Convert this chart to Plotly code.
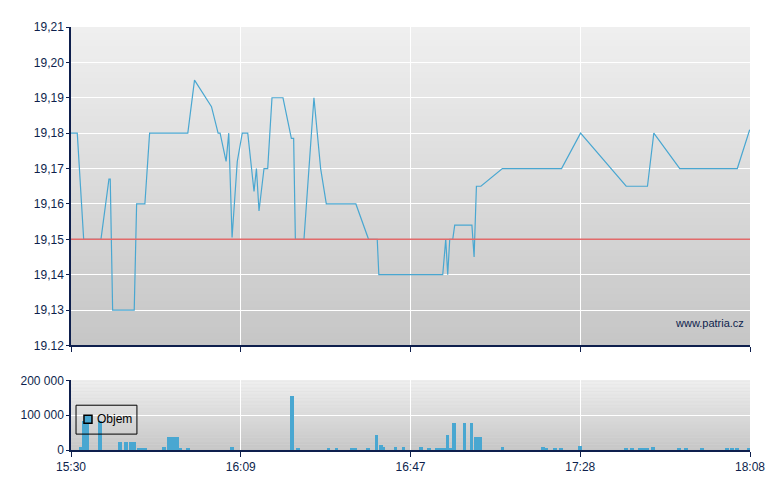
import plotly.graph_objects as go

# ---- data ----
# time in minutes after 15:30
price_time = [0, 1.46, 2.95, 6.97, 8.83, 9.13, 9.69, 14.71, 15.27, 17.19, 18.29, 27.18,
              28.74, 32.69, 34.23, 34.69, 36.09, 36.71, 37.48, 38.69, 39.85, 41.13,
              42.59, 43.15, 43.75, 44.91, 45.77, 46.77, 49.33, 51.28, 51.81, 52.21,
              54.21, 56.53, 58.09, 59.41, 66.29, 69.24, 71.26, 71.63, 86.50, 87.20,
              87.66, 88.13, 88.83, 89.29, 93.29, 93.80, 94.34, 95.38, 100.38, 114.15,
              118.57, 129.19, 134.14, 135.62, 141.66, 155.05, 157.93]
price = [19.18, 19.18, 19.15, 19.15, 19.167, 19.167, 19.13, 19.13, 19.16, 19.16, 19.18, 19.18,
         19.195, 19.1875, 19.18, 19.18, 19.172, 19.18, 19.1505, 19.172, 19.18, 19.18,
         19.1635, 19.17, 19.158, 19.17, 19.17, 19.19, 19.19, 19.1785, 19.1785, 19.15,
         19.15, 19.19, 19.17, 19.16, 19.16, 19.15, 19.15, 19.14, 19.14, 19.15,
         19.14, 19.15, 19.15, 19.154, 19.154, 19.145, 19.165, 19.165, 19.17, 19.17,
         19.18, 19.165, 19.165, 19.18, 19.17, 19.17, 19.181]
reference_price = 19.15

vol_time = [2.2, 3.0, 3.85, 6.8, 11.35, 12.8, 13.9, 14.7, 15.7, 16.5, 17.3, 21.6,
            22.75, 23.7, 24.65, 25.5, 27.2, 37.4, 51.5, 52.8, 59.9, 61.8, 65.3, 66.2,
            69.2, 71.1, 72.1, 72.7, 75.5, 77.35, 81.5, 83.3, 85.1, 86.1, 86.9, 87.6,
            88.3, 89.2, 91.55, 93.2, 94.3, 95.2, 100.4, 109.8, 110.6, 112.7, 114.1,
            118.5, 129.2, 130.6, 132.4, 133.3, 134.1, 135.4, 141.5, 143.1, 146.8,
            152.7, 153.8, 155.0, 157.8]
volume = [8000, 82000, 82000, 82000, 23000, 23000, 23000, 23000, 6000, 6000, 6000, 9000,
          37000, 37000, 37000, 3000, 3000, 9000, 155000, 3000, 6000, 6000, 6000, 6000,
          3000, 43000, 14000, 9000, 9000, 9000, 9000, 3000, 3000, 3000, 6000, 43000,
          6000, 78000, 78000, 78000, 37000, 37000, 9000, 9000, 3000, 3000, 3000,
          11000, 3000, 3000, 3000, 3000, 3000, 9000, 3000, 3000, 3000,
          3000, 3000, 6000, 3000]
volume_name = "Objem"

x_tick_vals = [0, 39.5, 79, 118.5, 158]
x_tick_text = ["15:30", "16:09", "16:47", "17:28", "18:08"]
price_tick_vals = [19.12, 19.13, 19.14, 19.15, 19.16, 19.17, 19.18, 19.19, 19.20, 19.21]
price_tick_text = ["19.12", "19,13", "19,14", "19,15", "19,16", "19,17", "19,18", "19,19", "19,20", "19,21"]
vol_tick_vals = [0, 100000, 200000]
vol_tick_text = ["0", "100 000", "200 000"]

# ---- styles ----
NAVY = "#0E1F4D"
BLUE = "#49A7D1"
FONT = "Liberation Sans, Arial, sans-serif"

fig = go.Figure()
fig.add_trace(go.Scatter(x=price_time, y=price, mode="lines",
                         line=dict(color=BLUE, width=1.2), showlegend=False,
                         xaxis="x", yaxis="y"))
fig.add_trace(go.Scatter(x=[0, 158], y=[reference_price, reference_price], mode="lines",
                         line=dict(color="#E26A6A", width=1.6), showlegend=False,
                         xaxis="x", yaxis="y"))
fig.add_trace(go.Bar(x=vol_time, y=volume, width=0.88, name=volume_name,
                     marker=dict(color=BLUE, line=dict(width=0)),
                     showlegend=False, xaxis="x2", yaxis="y2"))

# gradient backgrounds
shapes = []
N = 50
for xr, yr in (("x domain", "y domain"), ("x2 domain", "y2 domain")):
    for i in range(N):
        t = i / (N - 1)
        c = int(round(0xEF + (0xC6 - 0xEF) * t))
        col = f"rgb({c},{c},{c})"
        shapes.append(dict(type="rect", xref=xr, yref=yr, x0=0, x1=1,
                           y1=1 - i / N, y0=1 - (i + 1) / N - 0.002,
                           fillcolor=col, line=dict(width=0), layer="below"))

# legend box (drawn manually to match compact layout)
shapes.append(dict(type="rect", xref="paper", yref="paper", x0=0.0074, x1=0.0971,
                   y0=0.0376, y1=0.1059, line=dict(color="#000000", width=1),
                   fillcolor="rgba(0,0,0,0)", layer="above"))
shapes.append(dict(type="rect", xref="paper", yref="paper", x0=0.0191, x1=0.0309,
                   y0=0.0635, y1=0.0824, line=dict(color="#000000", width=1.5),
                   fillcolor=BLUE, layer="above"))

axis_common = dict(showline=True, linecolor=NAVY, linewidth=1.5, ticks="outside",
                   tickcolor=NAVY, gridcolor="#FFFFFF", gridwidth=1.3,
                   tickfont=dict(family=FONT, size=12, color=NAVY), zeroline=False)

fig.update_layout(
    width=772, height=482,
    margin=dict(l=62, r=30, t=17, b=40),
    paper_bgcolor="#FFFFFF", plot_bgcolor="#D8D8D8",
    font=dict(family=FONT, size=12, color=NAVY),
    shapes=shapes,
    showlegend=False,
    xaxis=dict(axis_common, domain=[0, 1], range=[0, 158], tickvals=x_tick_vals,
               ticktext=x_tick_text, showticklabels=False, ticklen=5, anchor="y"),
    yaxis=dict(axis_common, domain=[0.2471, 1], range=[19.12, 19.21],
               tickvals=price_tick_vals, ticktext=price_tick_text, ticklen=3, anchor="x"),
    xaxis2=dict(axis_common, domain=[0, 1], range=[0, 158], tickvals=x_tick_vals,
                ticktext=x_tick_text, ticklen=5, anchor="y2"),
    yaxis2=dict(axis_common, domain=[0, 0.1647], range=[0, 200000],
                tickvals=vol_tick_vals, ticktext=vol_tick_text, ticklen=3, anchor="x2"),
    annotations=[
        dict(text="www.patria.cz", xref="x", yref="y", x=157, y=19.124,
             xanchor="right", yanchor="bottom", showarrow=False,
             font=dict(family=FONT, size=11, color=NAVY)),
        dict(text=volume_name, xref="paper", yref="paper", x=0.0355, y=0.0729,
             xanchor="left", yanchor="middle", showarrow=False,
             font=dict(family=FONT, size=12, color="#000000")),
    ],
    bargap=0,
)

fig.write_html("out.html")
